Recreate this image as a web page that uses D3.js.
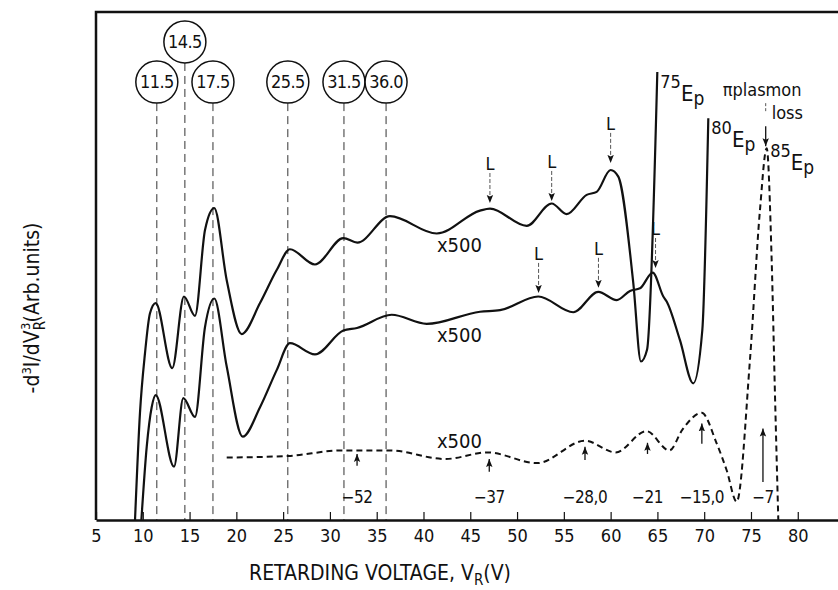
<!DOCTYPE html>
<html>
<head>
<meta charset="utf-8">
<script src="https://cdn.jsdelivr.net/npm/d3@7/dist/d3.min.js"></script>
<style>
	body { margin: 0; background: #fff; }
	text { font-family: "DejaVu Sans Condensed", "Liberation Sans Narrow", "Roboto", sans-serif; fill: #111; }
</style>
</head>
<body>
<svg id="chart" width="838" height="590"></svg>
<script>
// x axis ticks (retarding voltage, V)
var xTicks = [5, 10, 15, 20, 25, 30, 35, 40, 45, 50, 55, 60, 65, 70, 75, 80];

// circled peak positions and their dashed guide lines
var peakV = [11.5, 14.5, 17.5, 25.5, 31.5, 36.0];
var peakText = ["11.5", "14.5", "17.5", "25.5", "31.5", "36.0"];
var peakLevel = [86.2, 94.1, 86.2, 86.2, 86.2, 86.2];

// curves, [V, arb. units]
var ep75 = [[9.17, 0], [9.7, 21.1], [10.24, 32.9], [10.77, 40.7], [11.38, 42.7], [13.15, 29.9],
	[14.4, 44.0], [15.58, 40.2], [16.65, 57.1], [17.64, 61.4], [18.97, 47.2], [20.57, 36.6],
	[22.53, 42.7], [24.31, 49.2], [25.73, 53.3], [28.4, 50.3], [31.43, 55.5], [32.93, 54.6],
	[36.42, 59.8], [41.41, 56.4], [46.04, 60.9], [47.11, 61.3], [51.03, 57.9], [53.7, 62.3],
	[55.3, 60.2], [57.44, 64.0], [58.51, 64.6], [60.0, 68.9], [60.82, 67.6], [62.42, 46.7],
	[63.24, 31.2], [63.89, 33.5], [64.99, 88.2]];

var ep80 = [[9.85, 0], [10.42, 14.4], [10.95, 22.2], [11.38, 24.6], [13.34, 10.5], [14.33, 24.0],
	[15.58, 20.3], [16.65, 38.0], [17.64, 43.6], [18.97, 30.2], [20.68, 16.4], [22.53, 22.2],
	[24.31, 29.5], [25.73, 34.8], [28.4, 32.6], [31.43, 37.3], [32.89, 37.8], [36.6, 40.4],
	[40.34, 38.6], [46.04, 41.0], [48.18, 41.3], [52.27, 44.0], [56.01, 40.9], [58.68, 44.9],
	[60.65, 43.3], [62.07, 45.1], [63.14, 45.6], [64.5, 48.7], [65.63, 44.0], [65.99, 43.0],
	[67.41, 35.4], [68.83, 26.9], [69.8, 37.4], [70.44, 79.1]];

var ep85 = [[18.97, 12.3], [25.52, 12.6], [31.27, 13.7], [36.39, 13.7], [42.32, 12.0], [46.83, 13.3],
	[52.15, 11.2], [57.26, 15.6], [60.54, 13.3], [63.82, 17.5], [66.28, 13.7], [67.71, 17.9],
	[69.73, 21.1], [71.33, 15.1], [72.4, 9.8], [73.47, 3.6], [74.89, 31.5], [75.96, 61.0],
	[76.68, 73.2], [77.21, 51.2], [77.56, 25.0], [77.92, 0]];

// "x500" gain labels: [V, level]
var gainPos = [[41.44, 52.8], [41.44, 35.0], [41.44, 14.1]];

// "L" markers: position, arrow tip level
var lV75 = [47.1, 53.7, 60.0], lTip75 = [62.4, 62.8, 70.3];
var lV80 = [52.3, 58.7, 64.8], lTip80 = [44.7, 45.7, 49.6];

// energy-loss arrows on the 85 Ep curve
var lossV = [32.9, 47.03, 57.26, 63.94, 69.75, 76.28];
var lossTip = [13.0, 12.0, 14.4, 15.2, 19.0, 18.0];
var lossTail = [10.7, 9.5, 11.8, 13.0, 15.0, 7.5];
var lossText = ["\u221252", "\u221237", "\u221228,0", "\u221221", "\u221215,0", "\u22127"];

var W = 838, H = 590;
var svg = d3.select("#chart");

var x = d3.scaleLinear().domain([5, 84.3]).range([96, 838]);
var y = d3.scaleLinear().domain([0, 100]).range([520, 12]);

var defs = svg.append("defs");
defs.append("marker")
	.attr("id", "head")
	.attr("markerUnits", "userSpaceOnUse")
	.attr("markerWidth", 8)
	.attr("markerHeight", 10)
	.attr("viewBox", "0 0 10 8")
	.attr("refX", 10)
	.attr("refY", 4)
	.attr("orient", "auto")
	.append("path")
	.attr("d", "M0,0 L10,4 L0,8 L2,4 Z")
	.attr("fill", "#111");

// frame: left and top
svg.append("path")
	.attr("d", "M" + x(5) + "," + y(0) + " V" + y(100) + " H" + W)
	.attr("fill", "none")
	.attr("stroke", "#111")
	.attr("stroke-width", 2.5);

// dashed guide lines and circled values
var r = 21;
var guides = svg.append("g");
peakV.forEach(function (v, i) {
	guides.append("line")
		.attr("x1", x(v)).attr("x2", x(v))
		.attr("y1", y(peakLevel[i]) + r).attr("y2", y(0))
		.attr("stroke", "#333")
		.attr("stroke-width", 1)
		.attr("stroke-dasharray", "8,5");
	guides.append("circle")
		.attr("cx", x(v)).attr("cy", y(peakLevel[i]))
		.attr("r", r)
		.attr("fill", "#fff")
		.attr("stroke", "#111")
		.attr("stroke-width", 1.5);
	guides.append("text")
		.attr("x", x(v)).attr("y", y(peakLevel[i]) + 6)
		.attr("text-anchor", "middle")
		.attr("font-size", 18)
		.attr("letter-spacing", -0.6)
		.text(peakText[i]);
});

// x axis
var xAxis = d3.axisBottom(x)
	.tickValues(xTicks)
	.tickFormat(d3.format("d"))
	.tickSizeInner(-8)
	.tickSizeOuter(0)
	.tickPadding(9);

var ax = svg.append("g")
	.attr("transform", "translate(0," + y(0) + ")")
	.call(xAxis);
ax.select(".domain").attr("stroke", "#111").attr("stroke-width", 2.5);
ax.selectAll(".tick line").attr("stroke", "#111").attr("stroke-width", 1.2);
ax.selectAll(".tick text")
	.attr("font-size", 18)
	.attr("font-family", "DejaVu Sans Condensed, Liberation Sans Narrow, Roboto, sans-serif")
	.attr("fill", "#111");

// curves
var line = d3.line()
	.x(function (d) { return x(d[0]); })
	.y(function (d) { return y(d[1]); })
	.curve(d3.curveMonotoneX);

svg.append("path").datum(ep75)
	.attr("d", line).attr("fill", "none")
	.attr("stroke", "#111").attr("stroke-width", 2.2);

svg.append("path").datum(ep80)
	.attr("d", line).attr("fill", "none")
	.attr("stroke", "#111").attr("stroke-width", 2.2);

svg.append("path").datum(ep85)
	.attr("d", line).attr("fill", "none")
	.attr("stroke", "#111").attr("stroke-width", 2)
	.attr("stroke-dasharray", "6,4");

// L markers
function drawL(vs, tips) {
	vs.forEach(function (v, i) {
		var ty = y(tips[i]);
		svg.append("line")
			.attr("x1", x(v)).attr("x2", x(v))
			.attr("y1", ty - 30).attr("y2", ty)
			.attr("stroke", "#555")
			.attr("stroke-width", 1)
			.attr("stroke-dasharray", "4,2")
			.attr("marker-end", "url(#head)");
		svg.append("text")
			.attr("x", x(v)).attr("y", ty - 33)
			.attr("text-anchor", "middle")
			.attr("font-size", 18)
			.text("L");
	});
}
drawL(lV75, lTip75);
drawL(lV80, lTip80);

// loss arrows and labels
lossV.forEach(function (v, i) {
	svg.append("line")
		.attr("x1", x(v)).attr("x2", x(v))
		.attr("y1", y(lossTail[i])).attr("y2", y(lossTip[i]))
		.attr("stroke", "#111")
		.attr("stroke-width", 1.3)
		.attr("marker-end", "url(#head)");
	svg.append("text")
		.attr("x", x(v)).attr("y", y(3.3))
		.attr("text-anchor", "middle")
		.attr("font-size", 17)
		.attr("letter-spacing", -0.5)
		.text(lossText[i]);
});

// x500 labels
gainPos.forEach(function (p) {
	svg.append("text")
		.attr("x", x(p[0])).attr("y", y(p[1]))
		.attr("font-size", 20)
		.text("x500");
});

// Ep labels at the tops of the curves
function epLabel(pt, num) {
	var t = svg.append("text")
		.attr("x", x(pt[0]) + 3).attr("y", y(pt[1]) + 16)
		.attr("font-size", 18);
	t.append("tspan").text(num);
	t.append("tspan").attr("dy", 13).attr("font-size", 22).text("E");
	t.append("tspan").attr("dy", 4).attr("font-size", 19).text("p");
}
epLabel(ep75[ep75.length - 1], "75");
epLabel(ep80[ep80.length - 1], "80");
var top85 = ep85[18];
epLabel([top85[0] + 0.05, top85[1] + 1.5], "85");

// plasmon loss annotation
svg.append("text")
	.attr("x", x(top85[0]) - 44).attr("y", y(top85[1]) - 52)
	.attr("font-size", 18)
	.text("\u03c0plasmon");
svg.append("text")
	.attr("x", x(top85[0]) + 5).attr("y", y(top85[1]) - 29)
	.attr("font-size", 18)
	.text("loss");
svg.append("line")
	.attr("x1", x(top85[0]) - 1).attr("x2", x(top85[0]) - 1)
	.attr("y1", y(top85[1]) - 45).attr("y2", y(top85[1]) - 35)
	.attr("stroke", "#555").attr("stroke-width", 1).attr("stroke-dasharray", "3,2");
svg.append("line")
	.attr("x1", x(top85[0]) - 1).attr("x2", x(top85[0]) - 1)
	.attr("y1", y(top85[1]) - 22).attr("y2", y(top85[1]) - 2)
	.attr("stroke", "#111").attr("stroke-width", 1.3)
	.attr("marker-end", "url(#head)");

// axis titles
var xt = svg.append("text")
	.attr("x", 380).attr("y", 580)
	.attr("text-anchor", "middle")
	.attr("font-size", 21);
xt.append("tspan").text("RETARDING VOLTAGE, V");
xt.append("tspan").attr("dy", 5).attr("font-size", 15).text("R");
xt.append("tspan").attr("dy", -5).text("(V)");

var yt = svg.append("text")
	.attr("transform", "translate(39,308) rotate(-90)")
	.attr("text-anchor", "middle")
	.attr("font-size", 21);
yt.append("tspan").text("-d");
yt.append("tspan").attr("dy", -8).attr("font-size", 13).text("3");
yt.append("tspan").attr("dy", 8).text("I/dV");
yt.append("tspan").attr("dy", 6).attr("font-size", 15).text("R");
yt.append("tspan").attr("dx", -9).attr("dy", -15).attr("font-size", 13).text("3");
yt.append("tspan").attr("dy", 9).text("(Arb.units)");
</script>
</body>
</html>
